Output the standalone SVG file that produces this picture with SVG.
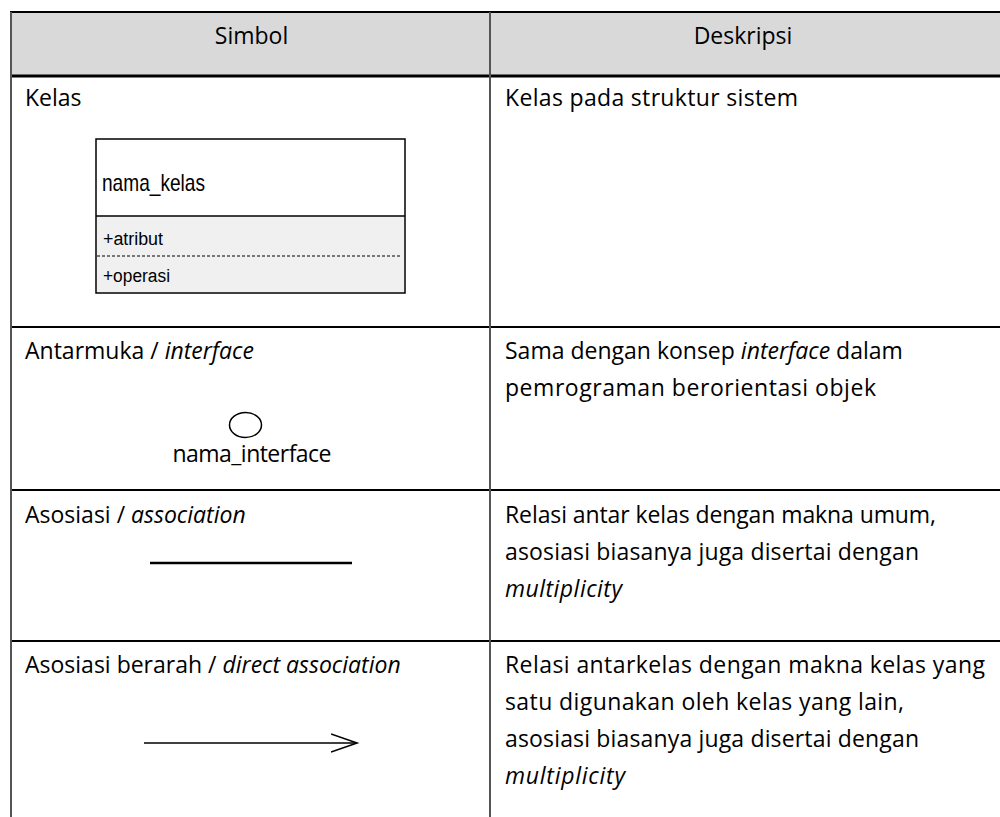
<svg xmlns="http://www.w3.org/2000/svg" width="1000" height="817" viewBox="0 0 1000 817">
  <style>
    .t { font-family: "Open Sans", "Noto Sans", sans-serif; font-size: 23px; fill: #000; }
    .h { font-family: "Open Sans", "Noto Sans", sans-serif; font-size: 23px; fill: #000; text-anchor: middle; }
    .n { font-family: "Liberation Sans Narrow", "Liberation Sans", sans-serif; fill: #000; }
    .i { font-style: italic; }
    .rule { stroke: #000; stroke-width: 2; }
    .vrule { stroke: #555; stroke-width: 2; }
  </style>
  <defs>
    <marker id="open-arrow" markerWidth="30" markerHeight="20" refX="26" refY="10" orient="auto" markerUnits="userSpaceOnUse">
      <path d="M0,1 L26,10 L0,19" fill="none" stroke="#000" stroke-width="1.6"/>
    </marker>
  </defs>
  <rect width="1000" height="817" fill="#fff"/>

  <!-- table grid -->
  <g id="table">
    <rect x="10" y="12" width="995" height="64" fill="#d9d9d9"/>
    <line x1="10" y1="12" x2="1000" y2="12" class="rule"/>
    <line x1="10" y1="76" x2="1000" y2="76" stroke="#000" stroke-width="3"/>
    <line x1="10" y1="327" x2="1000" y2="327" class="rule"/>
    <line x1="10" y1="490" x2="1000" y2="490" class="rule"/>
    <line x1="10" y1="641" x2="1000" y2="641" class="rule"/>
    <line x1="11" y1="12" x2="11" y2="817" class="vrule"/>
    <line x1="490" y1="12" x2="490" y2="817" class="vrule"/>
    <text x="251.5" y="44" class="h">Simbol</text>
    <text x="743" y="44" class="h">Deskripsi</text>
  </g>

  <!-- row: class -->
  <g id="row-kelas">
    <text x="25" y="106" class="t">Kelas</text>
    <text x="505" y="106" class="t" textLength="293">Kelas pada struktur sistem</text>
  </g>
  <g id="node-class">
    <rect x="96" y="139" width="309" height="154" fill="#fff" stroke="#000" stroke-width="1.5"/>
    <rect x="97" y="216" width="307" height="76" fill="#f0f0f0"/>
    <line x1="96" y1="216" x2="405" y2="216" stroke="#000" stroke-width="1.5"/>
    <line x1="97" y1="256" x2="401" y2="256" stroke="#000" stroke-width="1" stroke-dasharray="3,2"/>
    <text x="102" y="191" class="n" font-size="24" textLength="103" lengthAdjust="spacingAndGlyphs">nama_kelas</text>
    <text x="103" y="245" class="n" font-size="18" textLength="60" lengthAdjust="spacingAndGlyphs">+atribut</text>
    <text x="103" y="282" class="n" font-size="18" textLength="67" lengthAdjust="spacingAndGlyphs">+operasi</text>
  </g>

  <!-- row: interface -->
  <g id="row-interface">
    <text x="25" y="359" class="t">Antarmuka / <tspan class="i">interface</tspan></text>
    <text x="505" y="359" class="t">Sama dengan konsep <tspan class="i">interface</tspan> dalam</text>
    <text x="505" y="396" class="t" textLength="371">pemrograman berorientasi objek</text>
  </g>
  <g id="node-interface">
    <ellipse cx="245.5" cy="425" rx="16" ry="12.5" fill="#fff" stroke="#000" stroke-width="1.5"/>
    <text x="252" y="462" class="t" font-size="19" text-anchor="middle" textLength="159">nama_interface</text>
  </g>

  <!-- row: association -->
  <g id="row-association">
    <text x="25" y="523" class="t">Asosiasi / <tspan class="i">association</tspan></text>
    <text x="505" y="523" class="t" textLength="431">Relasi antar kelas dengan makna umum,</text>
    <text x="505" y="560" class="t" textLength="414">asosiasi biasanya juga disertai dengan</text>
    <text x="505" y="597" class="t i" textLength="117">multiplicity</text>
  </g>

  <!-- row: directed association -->
  <g id="row-direct">
    <text x="25" y="673" class="t">Asosiasi berarah / <tspan class="i">direct association</tspan></text>
    <text x="505" y="673" class="t" textLength="480">Relasi antarkelas dengan makna kelas yang</text>
    <text x="505" y="710" class="t" textLength="399">satu digunakan oleh kelas yang lain,</text>
    <text x="505" y="747" class="t" textLength="414">asosiasi biasanya juga disertai dengan</text>
    <text x="505" y="784" class="t i" textLength="120">multiplicity</text>
  </g>

  <!-- connector symbols -->
  <g id="connectors">
    <line x1="150" y1="563" x2="352" y2="563" stroke="#000" stroke-width="2.5"/>
    <line x1="144" y1="743" x2="357" y2="743" stroke="#000" stroke-width="1.6" marker-end="url(#open-arrow)"/>
  </g>
</svg>
